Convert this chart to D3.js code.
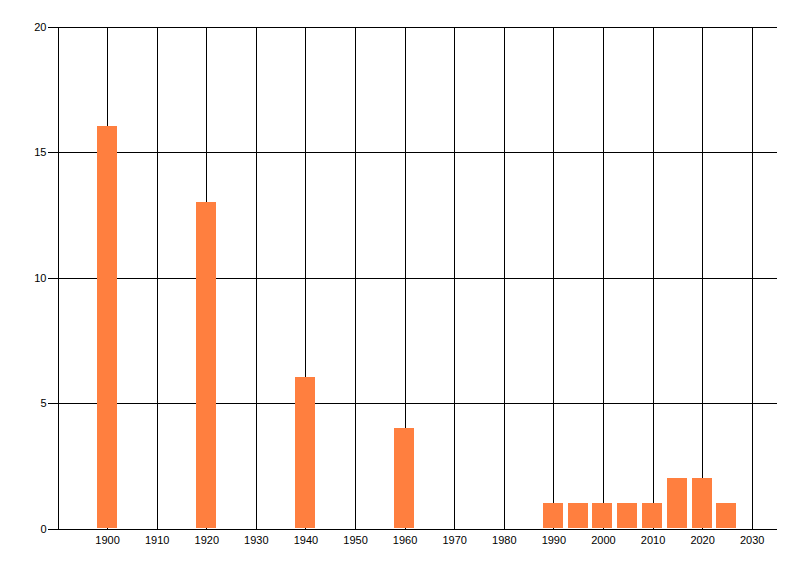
<!DOCTYPE html>
<html>
<head>
<meta charset="utf-8">
<script src="https://cdn.jsdelivr.net/npm/d3@7"></script>
<style>
  body { margin: 0; background: #fff; }
  svg { display: block; }
  .axis text { font-family: "Liberation Sans", Arial, sans-serif; font-size: 11px; fill: #000; }
  .axis path, .axis line, .grid line, .grid path { stroke: #000; shape-rendering: crispEdges; }
  .bar { shape-rendering: crispEdges; }
</style>
</head>
<body>
<script>
const years = [1900, 1920, 1940, 1960, 1990, 1995, 2000, 2005, 2010, 2015, 2020, 2025];
const counts = [16, 13, 6, 4, 1, 1, 1, 1, 1, 2, 2, 1];
const xTicks = [1900, 1910, 1920, 1930, 1940, 1950, 1960, 1970, 1980, 1990, 2000, 2010, 2020, 2030];
const yTicks = [0, 5, 10, 15, 20];

const W = 800, H = 576;
const margin = {left: 57, top: 26, right: 24, bottom: 48};
const width = W - margin.left - margin.right;
const height = H - margin.top - margin.bottom;

const svg = d3.select("body").append("svg")
    .attr("width", W)
    .attr("height", H);

const chart = svg.append("g")
    .attr("transform", `translate(${margin.left + 0.5}, ${margin.top + 0.5})`);

const x = d3.scaleLinear().domain([1890, 2035]).range([0, width]);
const y = d3.scaleLinear().domain([0, 20]).range([height, 0]);

// horizontal grid
chart.append("g").attr("class", "grid")
    .call(d3.axisLeft(y).tickValues(yTicks).tickSize(-width).tickFormat(""))
    .call(g => g.select(".domain").remove());

// vertical grid
chart.append("g").attr("class", "grid")
    .attr("transform", `translate(0, ${height})`)
    .call(d3.axisBottom(x).tickValues(xTicks).tickSize(-height).tickFormat(""))
    .call(g => g.select(".domain").remove());

// bars
const barW = Math.round(x(1894) - x(1890));
chart.selectAll("rect.bar")
    .data(years.map((d, i) => ({year: d, n: counts[i]})))
    .enter()
    .append("rect")
    .attr("class", "bar")
    .attr("x", d => Math.round(x(d.year) - barW / 2) - 0.5)
    .attr("y", d => Math.round(y(d.n)) - 0.5)
    .attr("width", barW)
    .attr("height", d => height - Math.round(y(d.n)))
    .attr("fill", "#ff7f3f");

// y axis
chart.append("g").attr("class", "axis")
    .call(d3.axisLeft(y).tickValues(yTicks).tickSizeInner(10).tickSizeOuter(0).tickPadding(1));

// x axis
chart.append("g").attr("class", "axis")
    .attr("transform", `translate(0, ${height})`)
    .call(d3.axisBottom(x).tickValues(xTicks).tickSizeInner(0).tickSizeOuter(0).tickPadding(8).tickFormat(d3.format("d")))
    .call(g => g.selectAll(".tick line").remove());
</script>
</body>
</html>
